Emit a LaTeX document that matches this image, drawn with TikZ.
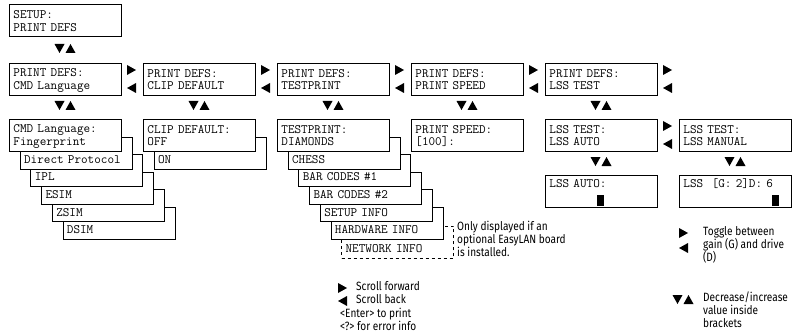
\documentclass[tikz,border=0pt]{standalone}
\usepackage{fontspec}
\newfontfamily\annfont[FakeStretch=0.84]{Fira Sans}
\newcommand{\tl}[2]{\rule{0pt}{10pt}#1\\\rule[-2pt]{0pt}{2pt}#2}
\begin{document}
\begin{tikzpicture}[x=1pt,y=-1pt,
  scr/.style={draw=black, line width=0.9pt, fill=white, minimum width=112pt,
    minimum height=32pt, anchor=north west, inner xsep=4pt, inner ysep=0pt,
    align=left, text width=104pt, font=\fontsize{12.8}{12.5}\selectfont\ttfamily},
  dscr/.style={scr, dashed},
  ann/.style={anchor=north west, inner sep=0pt, align=left,
    font=\annfont\fontsize{12}{13}\selectfont},
  ud/.pic={\fill (-10.5,0)--(-0.5,0)--(-5.5,9)--cycle; \fill (0.5,9)--(10.5,9)--(5.5,0)--cycle;},
  lr/.pic={\fill (0,-14)--(0,-4)--(9,-9)--cycle; \fill (9,4)--(9,14)--(0,9)--cycle;},
  rt/.pic={\fill (0,-5)--(0,5)--(9,0)--cycle;},
  lt/.pic={\fill (9,-5)--(9,5)--(0,0)--cycle;}]
\useasboundingbox (0,0) rectangle (803,334);

% top
\node[scr] (setup) at (9,4.5) {\tl{SETUP:}{PRINT DEFS}};
\pic (u0) at (65,44) {ud};

% row 2
\node[scr] (pA) at (9,63) {\tl{PRINT DEFS:}{CMD Language}};
\node[scr] (pB) at (143,63) {\tl{PRINT DEFS:}{CLIP DEFAULT}};
\node[scr] (pC) at (277,63) {\tl{PRINT DEFS:}{TESTPRINT}};
\node[scr] (pD) at (411,63) {\tl{PRINT DEFS:}{PRINT SPEED}};
\node[scr] (pE) at (545,63) {\tl{PRINT DEFS:}{LSS TEST}};
\pic (h1) at (127,79) {lr};
\pic (h2) at (261,79) {lr};
\pic (h3) at (395,79) {lr};
\pic (h4) at (529,79) {lr};
\pic (h5) at (663,79) {lr};
\pic (u1) at (65,101) {ud};
\pic (u2) at (199,101) {ud};
\pic (u3) at (333,101) {ud};
\pic (u4) at (467,101) {ud};
\pic (u5) at (601,101) {ud};

% CMD Language stack (back to front)
\node[scr] (c6) at (62.5,207) {\tl{}{DSIM}};
\node[scr] (c5) at (51.8,189.4) {\tl{}{ZSIM}};
\node[scr] (c4) at (41.1,171.8) {\tl{}{ESIM}};
\node[scr] (c3) at (30.4,154.2) {\tl{}{IPL}};
\node[scr] (c2) at (19.7,136.6) {\tl{}{Direct Protocol}};
\node[scr] (c1) at (9,119) {\tl{CMD Language:}{Fingerprint}};

% CLIP DEFAULT stack
\node[scr] (k2) at (153.7,136.6) {\tl{}{ON}};
\node[scr] (k1) at (143,119) {\tl{CLIP DEFAULT:}{OFF}};

% TESTPRINT stack
\node[dscr] (t7) at (341.2,226) {\tl{}{NETWORK INFO}};
\node[scr] (t6) at (330.5,207) {\tl{}{HARDWARE INFO}};
\node[scr] (t5) at (319.8,189.4) {\tl{}{SETUP INFO}};
\node[scr] (t4) at (309.1,171.8) {\tl{}{BAR CODES \#2}};
\node[scr] (t3) at (298.4,154.2) {\tl{}{BAR CODES \#1}};
\node[scr] (t2) at (287.7,136.6) {\tl{}{CHESS}};
\node[scr] (t1) at (277,119) {\tl{TESTPRINT:}{DIAMONDS}};

% PRINT SPEED
\node[scr] (sp) at (411,119) {\tl{PRINT SPEED:}{[100]:}};

% LSS
\node[scr] (la) at (545,119) {\tl{LSS TEST:}{LSS AUTO}};
\node[scr] (lm) at (679,119) {\tl{LSS TEST:}{LSS MANUAL}};
\pic (h6) at (663,135) {lr};
\pic (u6) at (601,157) {ud};
\pic (u7) at (735,157) {ud};
\node[scr] (lav) at (545,175) {\tl{LSS AUTO:}{\hspace*{48pt}\rule[-6pt]{7pt}{11pt}}};
\node[scr] (lmv) at (679,175) {\tl{LSS~~[G:~2]D:~6}{\hspace*{89pt}\rule[-6pt]{7pt}{11pt}}};

% annotations
\node[ann] (note) at (457,221) {Only displayed if an\\optional EasyLAN board\\is installed.};

\pic (lg1) at (338,288) {rt};
\pic (lg2) at (338,301) {lt};
\node[ann] (lgt) at (356,281) {Scroll forward\\Scroll back};
\node[ann] (lgt2) at (340,308) {<Enter> to print\\<?> for error info};

\pic (rg1) at (679,233) {rt};
\pic (rg2) at (679,248) {lt};
\node[ann] (rgt) at (703,226) {Toggle between\\gain (G) and drive\\(D)};
\pic (rg3) at (683,295) {ud};
\node[ann] (rgt2) at (703,292) {Decrease/increase\\value inside\\brackets};
\end{tikzpicture}
\end{document}
